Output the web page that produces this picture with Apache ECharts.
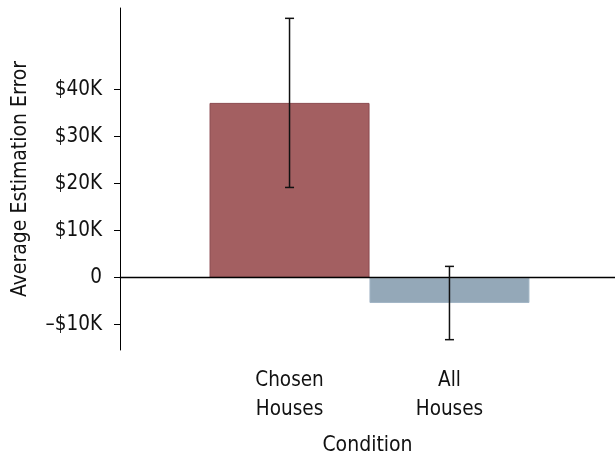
<!DOCTYPE html>
<html>
<head>
<meta charset="utf-8">
<script src="https://cdn.jsdelivr.net/npm/echarts@6/dist/echarts.min.js"></script>
<style>
  html, body { margin: 0; padding: 0; background: #fff; }
  #chart { width: 615px; height: 457px; }
</style>
</head>
<body>
<div id="chart"></div>
<script>
// data
const categories = ['Chosen\nHouses', 'All\nHouses'];
const meanError = [37200, -5400];
const errLow = [19200, -13200];
const errHigh = [55200, 2400];
const yTicks = [-10000, 0, 10000, 20000, 30000, 40000];

const FONT = "'Liberation Sans Narrow', 'DejaVu Sans Condensed', 'Arial Narrow', sans-serif";
const barColors = [
  { fill: '#a35f61', border: '#8c4a50' },
  { fill: '#94a8b8', border: '#a3b6c7' }
];

const formatDollars = v => {
  if (v === 0) return '0';
  const k = Math.abs(v) / 1000;
  return (v < 0 ? '\u2013$' : '$') + k + 'K';
};

const chart = echarts.init(document.getElementById('chart'));

chart.setOption({
  animation: false,
  grid: { left: 120, right: 0, top: 8, bottom: 107, outerBoundsMode: 'none', containLabel: false },
  xAxis: {
    type: 'value',
    min: -1.06,
    max: 2.035,
    z: 5,
    name: 'Condition',
    nameLocation: 'middle',
    nameGap: 85,
    nameTextStyle: { fontFamily: FONT, fontSize: 21, color: '#111' },
    axisLine: { onZero: true, lineStyle: { color: '#000', width: 1.3 } },
    axisTick: { show: false },
    splitLine: { show: false },
    axisLabel: {
      customValues: categories.map((c, i) => i),
      formatter: v => categories[v],
      margin: 16,
      fontFamily: FONT,
      fontSize: 20.5,
      lineHeight: 29,
      color: '#111'
    }
  },
  yAxis: {
    type: 'value',
    min: -15400,
    max: 57400,
    name: 'Average Estimation Error',
    nameLocation: 'middle',
    nameGap: 89,
    nameTextStyle: { fontFamily: FONT, fontSize: 21, color: '#111' },
    axisLine: { show: true, onZero: false, lineStyle: { color: '#000', width: 1 } },
    axisTick: { show: true, customValues: yTicks, length: 6, lineStyle: { color: '#000' } },
    splitLine: { show: false },
    axisLabel: {
      customValues: yTicks,
      formatter: formatDollars,
      margin: 18,
      fontFamily: FONT,
      fontSize: 20.5,
      color: '#111'
    }
  },
  series: [
    {
      type: 'bar',
      barWidth: 160,
      data: meanError.map((v, i) => ({
        value: [i, v],
        itemStyle: {
          color: barColors[i].fill,
          borderColor: barColors[i].border,
          borderWidth: 1
        }
      }))
    },
    {
      type: 'custom',
      z: 10,
      data: errLow.map((lo, i) => [i, lo, errHigh[i]]),
      renderItem: (params, api) => {
        const x = api.value(0);
        const top = api.coord([x, api.value(2)]);
        const bottom = api.coord([x, api.value(1)]);
        const half = 4.5;
        const style = { stroke: '#111', lineWidth: 1.5 };
        return {
          type: 'group',
          children: [
            { type: 'line', shape: { x1: top[0], y1: top[1], x2: bottom[0], y2: bottom[1] }, style },
            { type: 'line', shape: { x1: top[0] - half, y1: top[1], x2: top[0] + half, y2: top[1] }, style },
            { type: 'line', shape: { x1: bottom[0] - half, y1: bottom[1], x2: bottom[0] + half, y2: bottom[1] }, style }
          ]
        };
      }
    }
  ]
});
</script>
</body>
</html>
